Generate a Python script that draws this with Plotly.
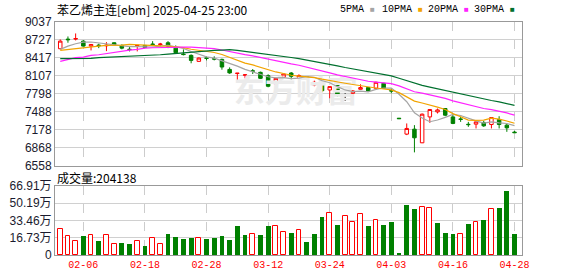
import plotly.graph_objects as go
import pandas as pd

# ---------------- data ----------------
dates = ["01-24", "01-27", "02-05", "02-06", "02-07", "02-10", "02-11", "02-12", "02-13", "02-14",
         "02-17", "02-18", "02-19", "02-20", "02-21", "02-24", "02-25", "02-26", "02-27", "02-28",
         "03-03", "03-04", "03-05", "03-06", "03-07", "03-10", "03-11", "03-12", "03-13", "03-14",
         "03-17", "03-18", "03-19", "03-20", "03-21", "03-24", "03-25", "03-26", "03-27", "03-28",
         "03-31", "04-01", "04-02", "04-03", "04-07", "04-08", "04-09", "04-10", "04-11", "04-14",
         "04-15", "04-16", "04-17", "04-18", "04-21", "04-22", "04-23", "04-24", "04-25", "04-28"]

opens = [8570, 8735, 8735, 8700, 8615, 8632, 8620, 8672, 8627, 8562,
         8610, 8627, 8650, 8640, 8672, 8580, 8478, 8456, 8353, 8412,
         8400, 8387, 8215, 8145, 8115, 8190, 8165, 8108, 7963, 8079,
         8153, 8079, 8091, 7948, 7985, 7862, 7937, 7780, 7806, 7874,
         7903, 7891, 7977, 7850, 7378, 7105, 7190, 6956, 7400, 7486,
         7544, 7400, 7365, 7274, 7276, 7305, 7270, 7356, 7259, 7140]
highs = [8729, 8780, 8832, 8717, 8643, 8656, 8683, 8680, 8644, 8610,
         8627, 8632, 8700, 8670, 8700, 8627, 8558, 8473, 8420, 8440,
         8440, 8400, 8250, 8150, 8136, 8221, 8177, 8131, 8070, 8140,
         8170, 8131, 8095, 8023, 7990, 7925, 7940, 7806, 7862, 7960,
         7910, 8006, 7985, 7891, 7378, 7288, 7259, 7459, 7530, 7544,
         7550, 7430, 7400, 7315, 7320, 7332, 7395, 7412, 7288, 7161]
lows = [8560, 8673, 8712, 8610, 8541, 8580, 8529, 8638, 8560, 8524,
        8524, 8585, 8615, 8615, 8580, 8500, 8456, 8320, 8345, 8370,
        8370, 8210, 8140, 8006, 8062, 8136, 8050, 7908, 7955, 8070,
        8046, 8023, 8055, 7926, 7823, 7720, 7750, 7674, 7750, 7870,
        7840, 7862, 7885, 7806, 7370, 7088, 6792, 6951, 7298, 7459,
        7413, 7276, 7315, 7230, 7202, 7230, 7202, 7202, 7144, 7127]
closes = [8700, 8725, 8745, 8615, 8643, 8622, 8630, 8638, 8580, 8555,
          8627, 8592, 8644, 8650, 8615, 8502, 8470, 8370, 8410, 8405,
          8392, 8256, 8155, 8150, 8122, 8185, 8062, 7926, 8062, 8136,
          8097, 8108, 8062, 7994, 7850, 7920, 7770, 7780, 7845, 7903,
          7845, 7994, 7891, 7845, 7370, 7202, 7042, 7447, 7527, 7520,
          7430, 7288, 7358, 7268, 7315, 7247, 7390, 7270, 7213, 7130]
volumes = [252000, 181000, 136000, 184000, 194000, 136000, 194000, 107000, 116000, 107000,
           136000, 90000, 165000, 107000, 204000, 175000, 158000, 168000, 165000, 158000,
           168000, 184000, 145000, 281000, 194000, 204000, 194000, 281000, 281000, 223000,
           213000, 242000, 126000, 204000, 368000, 404000, 291000, 378000, 320000, 394000,
           281000, 339000, 291000, 320000, 19000, 485000, 446000, 462000, 452000, 310000,
           213000, 204000, 200000, 300000, 317000, 339000, 446000, 456000, 620000, 204138]

# moving-average values before a full window is available
ma5_head = [8558, 8615, 8655, 8684]
ma10_head = [8541, 8558, 8570, 8581, 8598, 8615, 8627, 8627, 8632]
ma20_head = [8353, 8382, 8416, 8427, 8456, 8467, 8490, 8513, 8530, 8547,
             8558, 8581, 8587, 8592, 8598, 8598, 8598, 8598, 8592]
ma30_head = [8399, 8399, 8404, 8404, 8404, 8416, 8421, 8427, 8433, 8439,
             8444, 8456, 8461, 8467, 8478, 8490, 8501, 8513, 8524, 8536,
             8541, 8547, 8553, 8540, 8524, 8508, 8490, 8474, 8456]

price_ticks = ["6558", "6868", "7178", "7488", "7798", "8107", "8417", "8727", "9037"]
price_min, price_max = 6558, 9037
vol_ticks = ["0", "16.73万", "33.46万", "50.19万", "66.91万"]
vol_max = 669100
tick_dates = ["02-06", "02-18", "02-28", "03-12", "03-24", "04-03", "04-16", "04-28"]

title_text = "苯乙烯主连[ebm] 2025-04-25 23:00"
ma_names = ["5PMA", "10PMA", "20PMA", "30PMA"]
ma_colors = ["#a5a5a5", "#f2a400", "#ff22ff", "#00702e"]

# ---------------- derived ----------------
RED = "#ff0000"
GREEN = "#008000"
W, H = 578, 276
idx = list(range(len(dates)))
s_close = pd.Series(closes, dtype=float)


def ma(n, head):
    roll = s_close.rolling(n).mean()
    return list(head) + [round(v, 1) for v in roll.iloc[len(head):]]


mas = [ma(5, ma5_head), ma(10, ma10_head), ma(20, ma20_head), ma(30, ma30_head)]

flat = [i for i in idx if opens[i] == closes[i]]
body = [i for i in idx if opens[i] != closes[i]]

vol_up = [i for i in idx if i == 0 or closes[i] > closes[i - 1]]
vol_dn = [i for i in idx if i not in vol_up]

tickvals_x = [dates.index(d) for d in tick_dates]
step = (price_max - price_min) / (len(price_ticks) - 1)
tickvals_p = [price_min + k * step for k in range(len(price_ticks))]
tickvals_v = [vol_max * k / (len(vol_ticks) - 1) for k in range(len(vol_ticks))]


def px(x):
    return x / W


def py(y):
    return 1 - y / H


X_DOMAIN = [px(55), px(522)]
X_RANGE = [-0.68, 59.97]

fig = go.Figure()

# watermark (drawn first so it sits beneath the marks)
fig.add_trace(go.Scatter(
    x=[30.6], y=[7790], mode="text", text=["东方财富"],
    textfont=dict(family="Noto Sans CJK SC", size=31, color="#ebebeb", weight="bold"),
    hoverinfo="skip", showlegend=False, xaxis="x", yaxis="y"))

for name, col, vals in zip(ma_names, ma_colors, mas):
    fig.add_trace(go.Scatter(x=idx, y=vals, mode="lines", name=name,
                             line=dict(color=col, width=1.2), showlegend=False,
                             xaxis="x", yaxis="y"))

fig.add_trace(go.Candlestick(
    x=body, open=[opens[i] for i in body], high=[highs[i] for i in body],
    low=[lows[i] for i in body], close=[closes[i] for i in body],
    increasing=dict(line=dict(color=RED, width=1), fillcolor="#ffffff"),
    decreasing=dict(line=dict(color=GREEN, width=1), fillcolor=GREEN),
    whiskerwidth=0, showlegend=False, xaxis="x", yaxis="y"))
fig.add_trace(go.Candlestick(
    x=flat, open=[opens[i] for i in flat], high=[highs[i] for i in flat],
    low=[lows[i] for i in flat], close=[closes[i] for i in flat],
    increasing=dict(line=dict(color="#000000", width=1), fillcolor="#000000"),
    decreasing=dict(line=dict(color="#000000", width=1), fillcolor="#000000"),
    whiskerwidth=0, showlegend=False, xaxis="x", yaxis="y"))

fig.add_trace(go.Bar(x=vol_up, y=[volumes[i] for i in vol_up], width=0.62,
                     marker=dict(color="#ffffff", line=dict(color=RED, width=1)),
                     showlegend=False, xaxis="x2", yaxis="y2"))
fig.add_trace(go.Bar(x=vol_dn, y=[volumes[i] for i in vol_dn], width=0.62,
                     marker=dict(color=GREEN, line=dict(color=GREEN, width=0)),
                     showlegend=False, xaxis="x2", yaxis="y2"))

axis_common = dict(showline=True, mirror=True, linecolor="#999999", linewidth=1,
                   zeroline=False, ticks="", fixedrange=True)

fig.update_layout(
    template="none",
    width=W, height=H,
    margin=dict(l=0, r=0, t=0, b=0),
    paper_bgcolor="white", plot_bgcolor="white",
    showlegend=False,
    boxgap=0.35,
    bargap=0,
    xaxis=dict(domain=X_DOMAIN, range=X_RANGE, anchor="y", tickvals=tickvals_x,
               showticklabels=False, showgrid=True, gridcolor="#cccccc", griddash="dash",
               gridwidth=1, rangeslider=dict(visible=False), **axis_common),
    yaxis=dict(domain=[py(166), py(21.5)], range=[price_min, price_max], anchor="x",
               tickvals=tickvals_p, ticktext=price_ticks, showgrid=True,
               gridcolor="#d0d0d0", gridwidth=1,
               tickfont=dict(family="Liberation Sans, Arial", size=12, color="#1a1a2e"),
               **axis_common),
    xaxis2=dict(domain=X_DOMAIN, range=X_RANGE, anchor="y2", tickvals=tickvals_x,
                ticktext=tick_dates, showgrid=True, gridcolor="#cccccc", griddash="dash",
                gridwidth=1,
                tickfont=dict(family="Liberation Mono", size=10, color=RED),
                **axis_common),
    yaxis2=dict(domain=[py(255), py(186)], range=[0, vol_max], anchor="x2",
                tickvals=tickvals_v, ticktext=vol_ticks, showgrid=True,
                gridcolor="#d0d0d0", gridwidth=1,
                tickfont=dict(family="Liberation Sans, Noto Sans CJK SC", size=12, color="#1a1a2e"),
                **axis_common),
)

annotations = [
    dict(x=px(55), y=py(9), xref="paper", yref="paper", xanchor="left", yanchor="middle",
         text=title_text, showarrow=False,
         font=dict(family="Noto Sans CJK SC", size=12, color="#000000")),
    dict(x=px(55), y=py(177), xref="paper", yref="paper", xanchor="left", yanchor="middle",
         text="成交量:" + str(volumes[-1]), showarrow=False,
         font=dict(family="Noto Sans CJK SC", size=12, color="#000000")),
]
legend_x = [338, 380, 425.5, 471.5]
for name, col, lx in zip(ma_names, ma_colors, legend_x):
    annotations.append(dict(
        x=px(lx), y=py(9), xref="paper", yref="paper", xanchor="left", yanchor="middle",
        text=name + " <span style='color:" + col + ";font-size:8px'>■</span>",
        showarrow=False, font=dict(family="Liberation Mono", size=10, color="#000000")))
fig.update_layout(annotations=annotations)

fig.write_html("out.html")
